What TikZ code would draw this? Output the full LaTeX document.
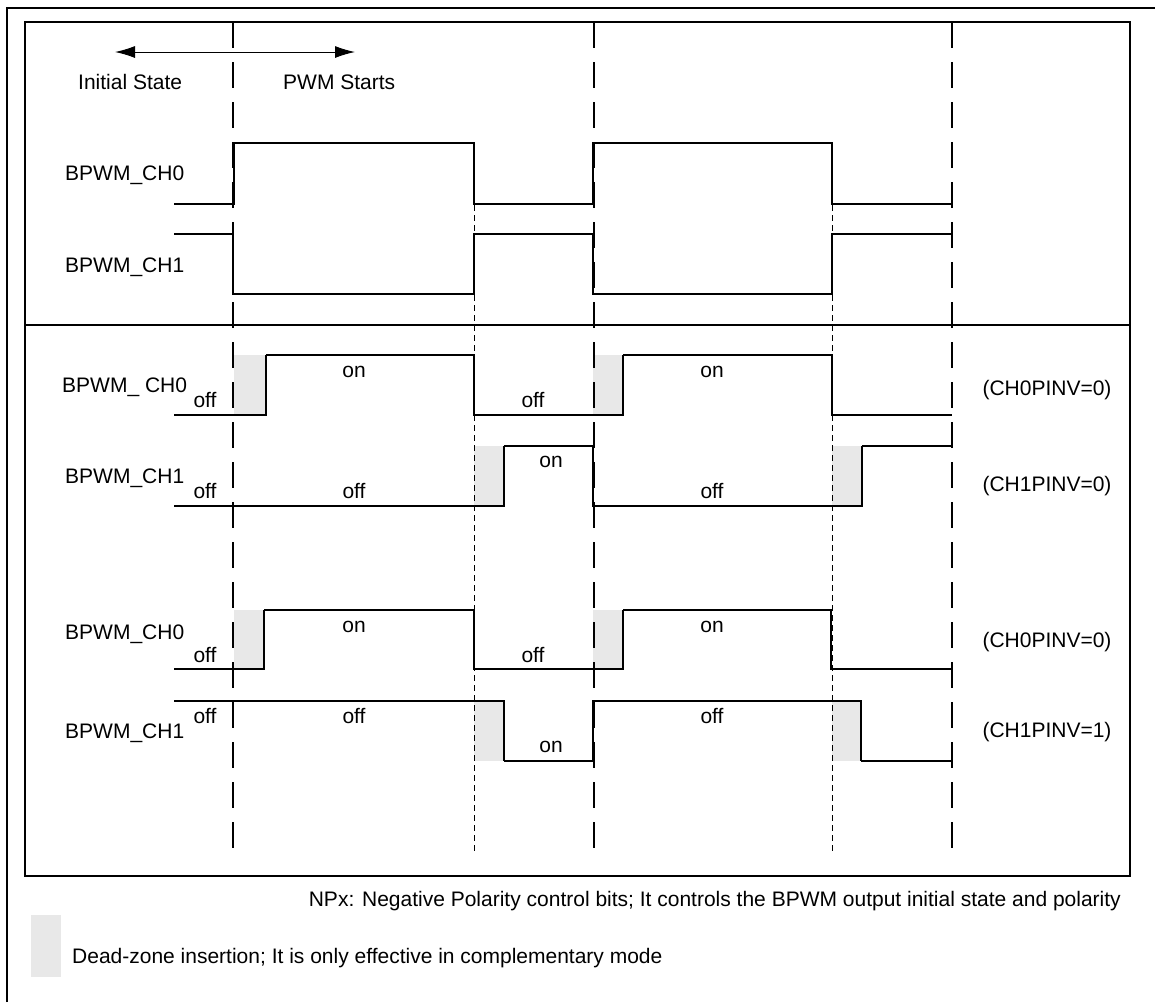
\documentclass[tikz,border=0pt]{standalone}
\usepackage{fontspec}
\setmainfont{Liberation Sans}
\usetikzlibrary{arrows.meta}
\definecolor{dzgray}{RGB}{232,232,232}
\tikzset{
  wave/.style={line width=2.7pt, line join=miter},
  thinwave/.style={line width=1.1pt},
  frame/.style={line width=2.3pt},
  longdash/.style={line width=1.4pt, dash pattern=on 26pt off 14pt},
  shortdash/.style={line width=1pt, dash pattern=on 6pt off 4pt},
  dzone/.style={fill=dzgray, draw=none},
  lbl/.style={font=\fontsize{21}{25}\selectfont, inner sep=0pt, anchor=base},
  sig/.style={lbl, anchor=base west},
}

\begin{document}
\begin{tikzpicture}[x=1pt, y=-1pt]
    \useasboundingbox (0,0) rectangle (1155,1002);
    % frames
    \draw[frame] (7,1002) -- (7,8) -- (1155,8);
    \draw[frame] (25,22) rectangle (1130,876);
    \draw[frame] (25,325) -- (1130,325);
    % dead zones
    \fill[dzone] (234,355) rectangle (266,415);
    \fill[dzone] (593,355) rectangle (623,415);
    \fill[dzone] (474,446) rectangle (504,506);
    \fill[dzone] (832,446) rectangle (862,506);
    \fill[dzone] (234,610) rectangle (264,669);
    \fill[dzone] (593,610) rectangle (623,669);
    \fill[dzone] (474,701) rectangle (504,761);
    \fill[dzone] (832,701) rectangle (861,761);
    % time marks
    \draw[longdash] (233,22) -- (233,852);
    \draw[longdash] (594,22) -- (594,852);
    \draw[longdash] (952,22) -- (952,852);
    \draw[shortdash] (474,205) -- (474,852);
    \draw[shortdash] (832,205) -- (832,852);

    % header
    \coordinate (arrL) at (115,52);
    \coordinate (arrR) at (355,52);
    \draw[{Latex[length=20pt,width=12pt]}-{Latex[length=20pt,width=12pt]}, line width=1pt] (arrL) -- (arrR);
    \node[sig] (initst) at (78,89) {Initial State};
    \node[sig] (pwmst) at (283,89) {PWM Starts};

    % before dead zone
    \node[sig] (topch0) at (65,180) {BPWM\_CH0};
    \node[sig] (topch1) at (65,272) {BPWM\_CH1};
    \draw[wave] (174,204) -- (234,204) -- (234,143) -- (474,143) -- (474,204) -- (593,204)
      -- (593,143) -- (832,143) -- (832,204) -- (952,204);
    \draw[wave] (174,234) -- (233,234) -- (233,294) -- (474,294) -- (474,234) -- (593,234)
      -- (593,294) -- (832,294) -- (832,234) -- (952,234);

    % CH0PINV=0, CH1PINV=0
    \node[sig] (aach0) at (62,392) {BPWM\_ CH0};
    \node[sig] (aach1) at (65,483) {BPWM\_CH1};
    \draw[wave] (174,415) -- (234,415);
    \draw[thinwave] (234,415) -- (266,415) -- (266,355);
    \draw[wave] (266,355) -- (474,355) -- (474,415) -- (593,415);
    \draw[thinwave] (593,415) -- (623,415) -- (623,355);
    \draw[wave] (623,355) -- (832,355) -- (832,415) -- (952,415);
    \draw[wave] (174,506) -- (474,506);
    \draw[thinwave] (474,506) -- (504,506) -- (504,446);
    \draw[wave] (504,446) -- (593,446) -- (593,506) -- (832,506);
    \draw[thinwave] (832,506) -- (862,506) -- (862,446);
    \draw[wave] (862,446) -- (952,446);
    \node[lbl] (aaoff0) at (205,407) {off};
    \node[lbl] (aaon1) at (354,377) {on};
    \node[lbl] (aaoff2) at (533,407) {off};
    \node[lbl] (aaon3) at (712,377) {on};
    \node[lbl] (aboff0) at (205,498) {off};
    \node[lbl] (aboff1) at (354,498) {off};
    \node[lbl] (abon2) at (551,467) {on};
    \node[lbl] (aboff3) at (712,498) {off};
    \node[lbl] (aainv) at (1047,395) {(CH0PINV=0)};
    \node[lbl] (abinv) at (1047,491) {(CH1PINV=0)};

    % CH0PINV=0, CH1PINV=1
    \node[sig] (bach0) at (65,639) {BPWM\_CH0};
    \node[sig] (bach1) at (65,738) {BPWM\_CH1};
    \draw[wave] (174,669) -- (234,669);
    \draw[thinwave] (234,669) -- (264,669) -- (264,610);
    \draw[wave] (264,610) -- (474,610) -- (474,669) -- (593,669);
    \draw[thinwave] (593,669) -- (623,669) -- (623,610);
    \draw[wave] (623,610) -- (831,610) -- (831,669) -- (952,669);
    \draw[wave] (174,701) -- (474,701);
    \draw[thinwave] (474,701) -- (504,701) -- (504,761);
    \draw[wave] (504,761) -- (593,761) -- (593,701) -- (832,701);
    \draw[thinwave] (832,701) -- (861,701) -- (861,761);
    \draw[wave] (861,761) -- (952,761);
    \node[lbl] (baoff0) at (205,662) {off};
    \node[lbl] (baon1) at (354,632) {on};
    \node[lbl] (baoff2) at (533,662) {off};
    \node[lbl] (baon3) at (712,632) {on};
    \node[lbl] (bboff0) at (205,723) {off};
    \node[lbl] (bboff1) at (354,723) {off};
    \node[lbl] (bbon2) at (551,752) {on};
    \node[lbl] (bboff3) at (712,723) {off};
    \node[lbl] (bainv) at (1047,647) {(CH0PINV=0)};
    \node[lbl] (bbinv) at (1047,737) {(CH1PINV=1)};

    % notes
    \node[lbl, anchor=base east] (npnote) at (1121,906) {NPx: Negative Polarity control bits; It controls the BPWM output initial state and polarity};
    \fill[dzone] (31,915) rectangle (61,977);
    \node[sig] (dznote) at (72,963) {Dead-zone insertion; It is only effective in complementary mode};
  \end{tikzpicture}
\end{document}
